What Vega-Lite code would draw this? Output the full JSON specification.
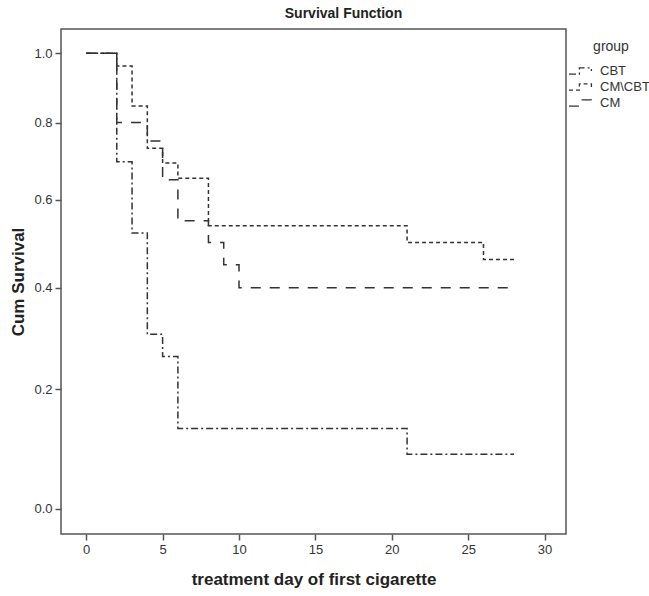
{
  "$schema": "https://vega.github.io/schema/vega-lite/v6.json",
  "autosize": "none",
  "width": 505,
  "height": 505,
  "padding": {"left": 61, "top": 29, "right": 83, "bottom": 62},
  "background": "white",
  "title": {
    "text": "Survival Function",
    "font": "Liberation Sans",
    "fontSize": 14,
    "fontWeight": "bold",
    "color": "#222",
    "anchor": "middle",
    "dx": 30,
    "offset": 8
  },
  "data": {
    "values": [
      {"group": "CBT", "day": 0, "surv": 1.0},
      {"group": "CBT", "day": 2, "surv": 0.6957},
      {"group": "CBT", "day": 3, "surv": 0.5217},
      {"group": "CBT", "day": 4, "surv": 0.3043},
      {"group": "CBT", "day": 5, "surv": 0.2609},
      {"group": "CBT", "day": 6, "surv": 0.1304},
      {"group": "CBT", "day": 21, "surv": 0.0870},
      {"group": "CBT", "day": 28, "surv": 0.0870},
      {"group": "CM\\CBT", "day": 0, "surv": 1.0},
      {"group": "CM\\CBT", "day": 2, "surv": 0.9615},
      {"group": "CM\\CBT", "day": 3, "surv": 0.8462},
      {"group": "CM\\CBT", "day": 4, "surv": 0.7308},
      {"group": "CM\\CBT", "day": 5, "surv": 0.6923},
      {"group": "CM\\CBT", "day": 6, "surv": 0.6538},
      {"group": "CM\\CBT", "day": 8, "surv": 0.5385},
      {"group": "CM\\CBT", "day": 21, "surv": 0.5},
      {"group": "CM\\CBT", "day": 26, "surv": 0.4615},
      {"group": "CM\\CBT", "day": 28, "surv": 0.4615},
      {"group": "CM", "day": 0, "surv": 1.0},
      {"group": "CM", "day": 2, "surv": 0.8},
      {"group": "CM", "day": 4, "surv": 0.75},
      {"group": "CM", "day": 5, "surv": 0.65},
      {"group": "CM", "day": 6, "surv": 0.55},
      {"group": "CM", "day": 8, "surv": 0.5},
      {"group": "CM", "day": 9, "surv": 0.45},
      {"group": "CM", "day": 10, "surv": 0.4},
      {"group": "CM", "day": 28, "surv": 0.4}
    ]
  },
  "mark": {"type": "line", "interpolate": "step-after", "color": "#333", "strokeWidth": 1.5},
  "encoding": {
    "x": {
      "field": "day",
      "type": "quantitative",
      "scale": {"domain": [-1.65, 31.4], "nice": false, "zero": false},
      "axis": {
        "title": "treatment day of first cigarette",
        "values": [0, 5, 10, 15, 20, 25, 30],
        "format": "d",
        "grid": false,
        "domain": false,
        "titlePadding": 15
      }
    },
    "y": {
      "field": "surv",
      "type": "quantitative",
      "scale": {"type": "symlog", "constant": 1, "domain": [-0.0388, 1.0753], "nice": false, "zero": false},
      "axis": {
        "title": "Cum Survival",
        "values": [0, 0.2, 0.4, 0.6, 0.8, 1.0],
        "format": ".1f",
        "grid": false,
        "domain": false,
        "titlePadding": 6
      }
    },
    "strokeDash": {
      "field": "group",
      "type": "nominal",
      "scale": {"domain": ["CBT", "CM\\CBT", "CM"], "range": [[7, 3, 2, 3], [4, 3], [10, 9]]},
      "legend": {
        "title": "group",
        "orient": "none",
        "legendX": 511,
        "legendY": 11,
        "symbolType": "M-1.5,0.4H-0.2V-0.4H1.3V0",
        "symbolStrokeColor": "#333",
        "symbolFillColor": "transparent",
        "symbolStrokeWidth": 1.3,
        "symbolSize": 256,
        "titleAnchor": "middle",
        "titleFont": "Liberation Sans",
        "titleFontSize": 14,
        "titleFontWeight": "normal",
        "titleColor": "#333",
        "titlePadding": 8,
        "labelFont": "Liberation Sans",
        "labelFontSize": 13,
        "labelColor": "#333",
        "rowPadding": 0,
        "labelOffset": 10
      }
    }
  },
  "config": {
    "view": {"stroke": "#555", "strokeWidth": 1.5},
    "axis": {
      "labelFont": "Liberation Sans",
      "labelFontSize": 13,
      "labelColor": "#333",
      "titleFont": "Liberation Sans",
      "titleFontSize": 17,
      "titleFontWeight": "bold",
      "titleColor": "#222",
      "tickColor": "#555",
      "tickWidth": 1.5,
      "tickSize": 6,
      "labelPadding": 3
    }
  }
}
